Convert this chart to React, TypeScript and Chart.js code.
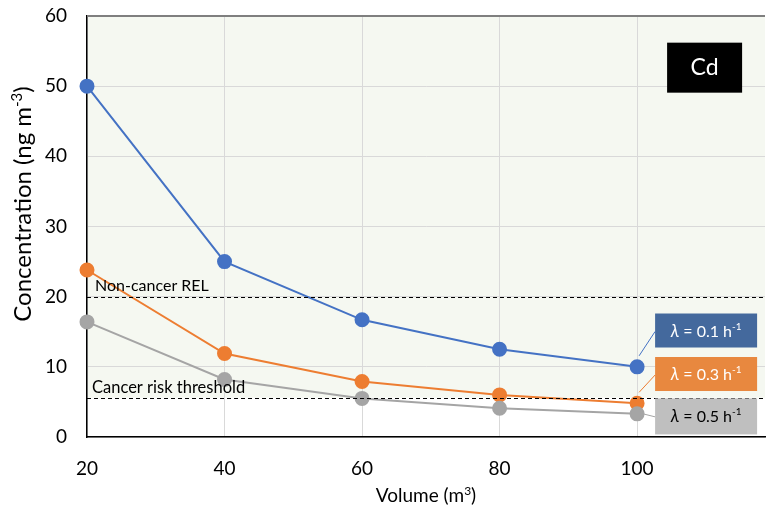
import React, { useEffect, useRef } from "react";
import { Chart, registerables } from "chart.js";

Chart.register(...registerables);

const volumes = [20, 40, 60, 80, 100];
const lambda01 = [50, 25, 16.7, 12.5, 10];
const lambda03 = [23.8, 11.9, 7.9, 6.0, 4.8];
const lambda05 = [16.4, 8.2, 5.5, 4.1, 3.3];
const seriesLabels = ["0.1", "0.3", "0.5"];
const seriesColors = ["#4472C4", "#ED7D31", "#A5A5A5"];
const boxColors = ["#44699D", "#E8883F", "#BFBFBF"];
const boxTextColors = ["#FFFFFF", "#FFFFFF", "#000000"];
const thresholds = [20, 5.6];
const thresholdLabels = ["Non-cancer REL", "Cancer risk threshold"];
const xTicks = [20, 40, 60, 80, 100];
const xMin = 20;
const xMax = 118.6;
const yTitle = "Concentration (ng m";
const FONT = "Lato, 'Open Sans', sans-serif";

function drawSup(ctx: any, base: string, sup: string, x: number, y: number, size: number, align: "center" | "left") {
  ctx.font = `${size}px ${FONT}`;
  const wBase = ctx.measureText(base).width;
  ctx.font = `${Math.round(size * 0.62)}px ${FONT}`;
  const wSup = ctx.measureText(sup).width;
  ctx.font = `${size}px ${FONT}`;
  const wEnd = ctx.measureText(")").width;
  const total = wBase + wSup + wEnd;
  let sx = align === "center" ? x - total / 2 : x;
  ctx.textAlign = "left";
  ctx.fillText(base, sx, y);
  sx += wBase;
  ctx.font = `${Math.round(size * 0.62)}px ${FONT}`;
  ctx.fillText(sup, sx, y - size * 0.38);
  sx += wSup;
  ctx.font = `${size}px ${FONT}`;
  ctx.fillText(")", sx, y);
}

const decorPlugin = {
  id: "decor",
  beforeDraw(chart: any) {
    const { ctx, chartArea, scales } = chart;
    const y = scales.y;
    ctx.save();
    const yThr = y.getPixelForValue(thresholds[1]);
    ctx.fillStyle = "#F5F8F1";
    ctx.fillRect(chartArea.left, chartArea.top, chartArea.right - chartArea.left, yThr - chartArea.top);
    ctx.restore();
  },
  afterDatasetsDraw(chart: any) {
    const { ctx, chartArea, scales } = chart;
    const x = scales.x;
    const y = scales.y;
    ctx.save();
    ctx.strokeStyle = "#7F7F7F";
    ctx.lineWidth = 2;
    ctx.beginPath();
    ctx.moveTo(chartArea.left, chartArea.top);
    ctx.lineTo(chartArea.right, chartArea.top);
    ctx.stroke();
    ctx.strokeStyle = "#000";
    ctx.lineWidth = 1;
    ctx.setLineDash([4, 3]);
    thresholds.forEach((t) => {
      const py = Math.round(y.getPixelForValue(t)) + 0.5;
      ctx.beginPath();
      ctx.moveTo(chartArea.left, py);
      ctx.lineTo(chartArea.right, py);
      ctx.stroke();
    });
    ctx.setLineDash([]);
    ctx.fillStyle = "#000";
    ctx.font = `16px ${FONT}`;
    ctx.textBaseline = "alphabetic";
    ctx.textAlign = "left";
    ctx.fillText(thresholdLabels[0], chartArea.left + 8, y.getPixelForValue(thresholds[0]) - 6);
    ctx.font = `16.5px ${FONT}`;
    ctx.fillText(thresholdLabels[1], chartArea.left + 5, y.getPixelForValue(thresholds[1]) - 5);

    ctx.fillStyle = "#000";
    drawSup(ctx, "Volume (m", "3", (chartArea.left + chartArea.right) / 2, 502, 19, "center");
    ctx.save();
    ctx.translate(31, 204);
    ctx.rotate(-Math.PI / 2);
    drawSup(ctx, yTitle, "-3", 0, 0, 24, "center");
    ctx.restore();

    const lastIdx = volumes.length - 1;
    const px = x.getPixelForValue(volumes[lastIdx]);
    const series = [lambda01, lambda03, lambda05];
    const boxTops = [y.getPixelForValue(17.6), y.getPixelForValue(11.4), y.getPixelForValue(5.5)];
    const boxH = [34, 34, 36];
    const boxL = px + 18;
    const boxW = 102;
    series.forEach((s, i) => {
      const py = y.getPixelForValue(s[lastIdx]);
      const top = boxTops[i];
      ctx.strokeStyle = seriesColors[i];
      ctx.lineWidth = 1;
      ctx.beginPath();
      if (i === 2) {
        ctx.moveTo(px + 6, py);
        ctx.lineTo(boxL, py + 3);
      } else {
        ctx.moveTo(px + 2, py - 11);
        ctx.lineTo(boxL, top + boxH[i] - 16);
      }
      ctx.stroke();
      ctx.fillStyle = boxColors[i];
      ctx.fillRect(boxL, top, boxW, boxH[i]);
      const cx = boxL + boxW / 2;
      const cy = top + boxH[i] / 2 + 6;
      ctx.fillStyle = boxTextColors[i];
      const partA = "λ";
      const partB = ` = ${seriesLabels[i]} h`;
      const partC = "-1";
      ctx.font = `italic 17px ${FONT}`;
      const wA = ctx.measureText(partA).width;
      ctx.font = `16px ${FONT}`;
      const wB = ctx.measureText(partB).width;
      ctx.font = `10px ${FONT}`;
      const wC = ctx.measureText(partC).width;
      let sx = cx - (wA + wB + wC) / 2;
      ctx.textAlign = "left";
      ctx.font = `italic 17px ${FONT}`;
      ctx.fillText(partA, sx, cy);
      sx += wA;
      ctx.font = `16px ${FONT}`;
      ctx.fillText(partB, sx, cy);
      sx += wB;
      ctx.font = `10px ${FONT}`;
      ctx.fillText(partC, sx, cy - 7);
    });

    const cdL = x.getPixelForValue(100) + 30;
    const cdT = y.getPixelForValue(56.2);
    ctx.fillStyle = "#000";
    ctx.fillRect(cdL, cdT, 75, 50);
    ctx.fillStyle = "#FFF";
    ctx.font = `23px ${FONT}`;
    ctx.textAlign = "center";
    ctx.textBaseline = "middle";
    ctx.fillText("Cd", cdL + 37.5, cdT + 25);
    ctx.restore();
  },
};

export default function App() {
  const ref = useRef<HTMLCanvasElement>(null);
  useEffect(() => {
    if (!ref.current) return;
    const mk = (data: number[], i: number) => ({
      data: volumes.map((v, k) => ({ x: v, y: data[k] })),
      borderColor: seriesColors[i],
      backgroundColor: seriesColors[i],
      pointBackgroundColor: seriesColors[i],
      pointBorderColor: seriesColors[i],
      pointRadius: 6.5,
      borderWidth: 2,
      clip: false as any,
    });
    const chart = new Chart(ref.current, {
      type: "line",
      data: {
        datasets: [mk(lambda05, 2), mk(lambda03, 1), mk(lambda01, 0)],
      },
      options: {
        animation: false,
        responsive: false,
        maintainAspectRatio: false,
        layout: { autoPadding: false, padding: { top: 16, right: 1, left: 0, bottom: 0 } },
        plugins: { legend: { display: false }, tooltip: { enabled: false } },
        scales: {
          x: {
            type: "linear",
            min: xMin,
            max: xMax,
            afterBuildTicks: (s: any) => {
              s.ticks = xTicks.map((v) => ({ value: v }));
            },
            afterFit: (s: any) => {
              s.height = 74;
              s.paddingLeft = 0;
              s.paddingRight = 0;
            },
            grid: { color: "#D9D9D9", lineWidth: 1, drawTicks: false },
            border: { display: true, color: "#000", width: 1.5 },
            ticks: { color: "#000", font: { size: 19, family: FONT }, padding: 20 },
          },
          y: {
            min: 0,
            max: 60,
            ticks: { stepSize: 10, color: "#000", font: { size: 19, family: FONT }, padding: 20 },
            afterFit: (s: any) => {
              s.width = 87;
              s.paddingTop = 0;
              s.paddingBottom = 0;
            },
            grid: { color: "#D9D9D9", lineWidth: 1, drawTicks: false },
            border: { display: true, color: "#000", width: 1.5 },
          },
        },
      },
      plugins: [decorPlugin],
    });
    return () => chart.destroy();
  }, []);
  return (
    <div style={{ position: "fixed", left: 0, top: 0, width: 766, height: 511, background: "#fff" }}>
      <canvas ref={ref} width={766} height={511} style={{ display: "block" }} />
    </div>
  );
}
